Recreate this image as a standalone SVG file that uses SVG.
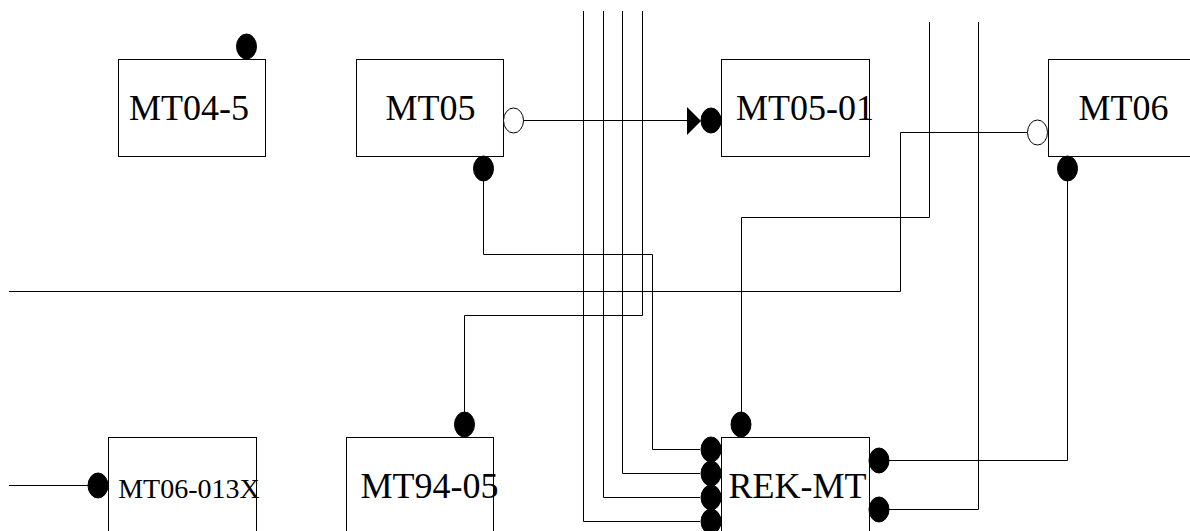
<svg xmlns="http://www.w3.org/2000/svg" width="1190" height="531" viewBox="0 0 1190 531">
<style>
.box{fill:#fff;stroke:#000;stroke-width:1}
.lbl{font-family:"Liberation Serif","Times New Roman",serif;font-size:36px;fill:#000;text-anchor:middle}
.sm{font-size:28px}
.w{fill:none;stroke:#000;stroke-width:1}
.dot{fill:#000;stroke:#000;stroke-width:1}
.ring{fill:#fff;stroke:#000;stroke-width:1}
</style>
<rect width="1190" height="531" fill="#fff"/>
<g id="connectors">
<polyline class="w" points="523,120.5 688,120.5"/>
<polygon points="687,107 701,121 687,135" fill="#000"/>
<polyline class="w" points="1027,132.5 900.5,132.5 900.5,291.5 9,291.5"/>
<polyline class="w" points="483.5,181 483.5,254.5 652.5,254.5 652.5,449.5 700,449.5"/>
<polyline class="w" points="464.5,412 464.5,315.5 642.5,315.5 642.5,11"/>
<polyline class="w" points="583.5,11 583.5,521.5 700,521.5"/>
<polyline class="w" points="603.5,11 603.5,497.5 700,497.5"/>
<polyline class="w" points="622.5,11 622.5,473.5 700,473.5"/>
<polyline class="w" points="929.5,22 929.5,217.5 741.5,217.5 741.5,412"/>
<polyline class="w" points="978.5,22 978.5,509.5 889,509.5"/>
<polyline class="w" points="1067.5,180 1067.5,460.5 889,460.5"/>
<polyline class="w" points="9,485.5 88,485.5"/>
</g>
<g id="MT04-5">
<rect class="box" x="118.5" y="59.5" width="147" height="97"/>
<text class="lbl" x="189" y="120">MT04-5</text>
<ellipse class="dot" cx="246.5" cy="46.5" rx="10" ry="12.5"/>
</g>
<g id="MT05">
<rect class="box" x="356.5" y="59.5" width="147" height="97"/>
<text class="lbl" x="430.5" y="120">MT05</text>
<ellipse class="ring" cx="513.5" cy="120.5" rx="10" ry="12.5"/>
<ellipse class="dot" cx="483.5" cy="168.5" rx="10" ry="12.5"/>
</g>
<g id="MT05-01">
<rect class="box" x="721.5" y="59.5" width="148" height="97"/>
<text class="lbl" x="805" y="120">MT05-01</text>
<ellipse class="dot" cx="711" cy="120.5" rx="10" ry="12.5"/>
</g>
<g id="MT06">
<rect class="box" x="1048.5" y="59.5" width="148" height="97"/>
<text class="lbl" x="1123.5" y="120">MT06</text>
<ellipse class="ring" cx="1037.5" cy="132.5" rx="10" ry="12.5"/>
<ellipse class="dot" cx="1067.5" cy="168.5" rx="10" ry="12.5"/>
</g>
<g id="MT06-013X">
<rect class="box" x="108.5" y="437.5" width="148" height="97"/>
<text class="lbl sm" x="189" y="498">MT06-013X</text>
<ellipse class="dot" cx="98" cy="485.5" rx="10" ry="12.5"/>
</g>
<g id="MT94-05">
<rect class="box" x="346.5" y="437.5" width="147" height="97"/>
<text class="lbl" x="429.5" y="498">MT94-05</text>
<ellipse class="dot" cx="464.5" cy="424.5" rx="10" ry="12.5"/>
</g>
<g id="REK-MT">
<rect class="box" x="721.5" y="437.5" width="148" height="97"/>
<text class="lbl" x="797.5" y="498">REK-MT</text>
<ellipse class="dot" cx="741" cy="424.5" rx="10" ry="12.5"/>
<ellipse class="dot" cx="711" cy="449.5" rx="10" ry="12.5"/>
<ellipse class="dot" cx="711" cy="473.5" rx="10" ry="12.5"/>
<ellipse class="dot" cx="711" cy="497.5" rx="10" ry="12.5"/>
<ellipse class="dot" cx="711" cy="521.5" rx="10" ry="12.5"/>
<ellipse class="dot" cx="879" cy="460.5" rx="10" ry="12.5"/>
<ellipse class="dot" cx="879" cy="509.5" rx="10" ry="12.5"/>
</g>
</svg>
